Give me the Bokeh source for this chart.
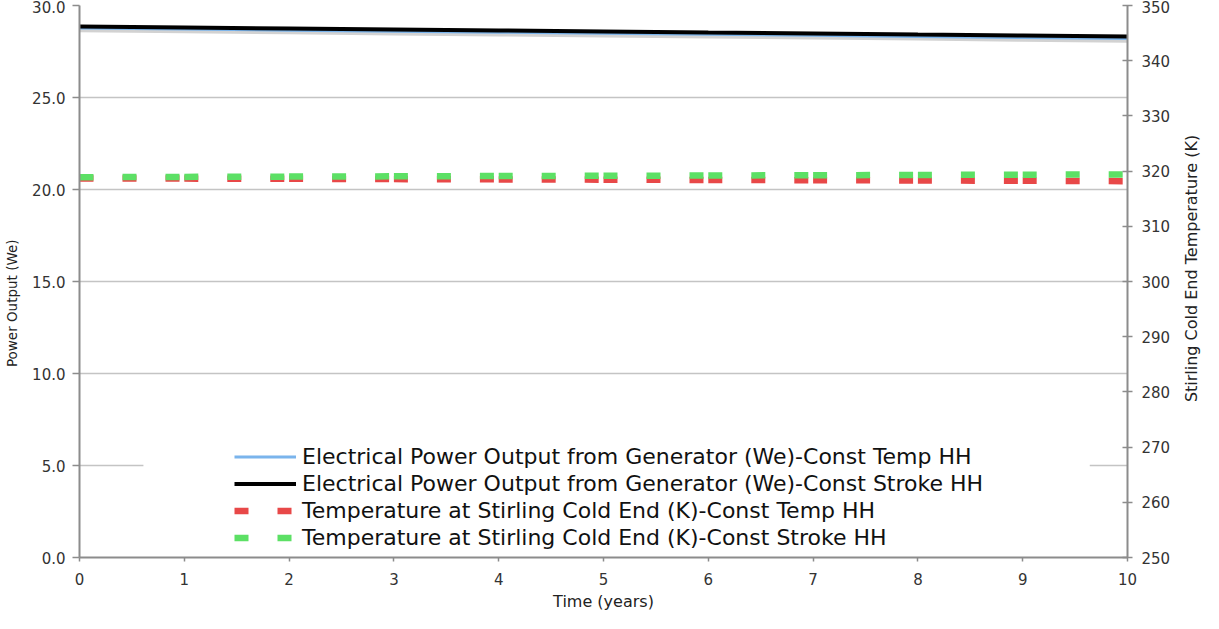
from bokeh.plotting import figure
from bokeh.layouts import row
from bokeh.models import (Range1d, LinearAxis, FixedTicker, PrintfTickFormatter,
                          Legend, LegendItem, BoxAnnotation)
from bokeh.core.properties import value
from bokeh.embed import file_html
from bokeh.resources import INLINE
import math

# ---- data ----
years = [0, 1, 2, 3, 4, 5, 6, 7, 8, 9, 10]
power_const_temp = [28.78, 28.72, 28.66, 28.60, 28.55, 28.49, 28.44, 28.38, 28.32, 28.26, 28.20]
power_const_stroke = [28.86, 28.81, 28.75, 28.70, 28.64, 28.59, 28.53, 28.48, 28.42, 28.37, 28.31]
temp_const_temp = [318.68, 318.64, 318.60, 318.55, 318.50, 318.45, 318.40, 318.35, 318.30, 318.24, 318.18]
temp_const_stroke = [318.90, 318.95, 319.00, 319.05, 319.10, 319.15, 319.20, 319.25, 319.30, 319.35, 319.40]

labels = [
    "Electrical Power Output from Generator (We)-Const Temp HH",
    "Electrical Power Output from Generator (We)-Const Stroke HH",
    "Temperature at Stirling Cold End (K)-Const Temp HH",
    "Temperature at Stirling Cold End (K)-Const Stroke HH",
]
x_ticks = list(range(0, 11))
left_ticks = [0, 5, 10, 15, 20, 25, 30]
right_ticks = list(range(250, 351, 10))
left_title = "Power Output (We)"
right_title = "Stirling Cold End Temperature (K)"
x_title = "Time (years)"

FONT = "DejaVu Sans"
TXT = "#333333"
AX = "#8c8c8c"

H = 613
BT, BB = 5, 56          # top / bottom borders of the main figure
frame_h = H - BT - BB

p = figure(width=1144, height=H, output_backend="svg", toolbar_location=None,
           x_range=Range1d(0, 10), y_range=Range1d(0, 30),
           min_border_left=49, min_border_right=43, min_border_top=BT, min_border_bottom=BB)
p.extra_y_ranges = {"temp": Range1d(250, 350)}
p.outline_line_color = None
p.xgrid.visible = False
p.ygrid.grid_line_color = "#c4c4c4"
p.ygrid.grid_line_width = 1.5
p.ygrid.ticker = FixedTicker(ticks=left_ticks)

# white box behind the legend (hides the gridline there)
p.add_layout(BoxAnnotation(left=0.61, right=9.64, bottom=0.5, top=9.0,
                           fill_color="white", fill_alpha=1.0, line_color=None,
                           level="underlay"))

shadow = [v - 0.12 for v in power_const_temp]
p.line(years, shadow, line_color="#d2d2d2", line_width=4)
r_blue = p.line(years, power_const_temp, line_color="#7ab4ec", line_width=3)
r_black = p.line(years, power_const_stroke, line_color="black", line_width=4)

xs = [[years[i], years[i + 1]] for i in range(len(years) - 1)]
ys_red = [[temp_const_temp[i], temp_const_temp[i + 1]] for i in range(len(years) - 1)]
ys_green = [[temp_const_stroke[i], temp_const_stroke[i + 1]] for i in range(len(years) - 1)]
r_red = p.multi_line(xs, ys_red, line_color="#e84848", line_width=6.5, line_dash="14 29",
                     line_cap="butt", y_range_name="temp")
r_green = p.multi_line(xs, ys_green, line_color="#5ce065", line_width=6.5, line_dash="14 29",
                       line_cap="butt", y_range_name="temp")

for ax in (p.xaxis[0], p.yaxis[0]):
    ax.axis_line_color = AX
    ax.axis_line_width = 2
    ax.major_tick_line_color = AX
    ax.major_tick_line_width = 1.5
    ax.minor_tick_line_color = None
    ax.major_label_text_font = FONT
    ax.major_label_text_color = TXT
    ax.major_label_text_font_size = "15px"
    ax.axis_label_text_font = FONT
    ax.axis_label_text_font_style = "normal"
    ax.axis_label_text_color = "#222222"

p.xaxis.ticker = FixedTicker(ticks=x_ticks)
p.xaxis.major_tick_in = 0
p.xaxis.major_tick_out = 4
p.xaxis.major_label_standoff = 11
p.xaxis.axis_label = x_title
p.xaxis.axis_label_text_font_size = "16px"
p.xaxis.axis_label_standoff = 4

p.yaxis.ticker = FixedTicker(ticks=left_ticks)
p.yaxis.formatter = PrintfTickFormatter(format="%.1f")
p.yaxis.major_tick_in = 0
p.yaxis.major_tick_out = 7
p.yaxis.major_label_standoff = 7

ry = LinearAxis(y_range_name="temp", ticker=FixedTicker(ticks=right_ticks))
ry.axis_line_color = AX
ry.axis_line_width = 2
ry.major_tick_line_color = AX
ry.major_tick_line_width = 1.5
ry.minor_tick_line_color = None
ry.major_tick_in = 5
ry.major_tick_out = 5
ry.major_label_standoff = 9
ry.major_label_text_font = FONT
ry.major_label_text_color = TXT
ry.major_label_text_font_size = "15px"
p.add_layout(ry, "right")

legend = Legend(items=[LegendItem(label=labels[0], renderers=[r_blue]),
                       LegendItem(label=labels[1], renderers=[r_black]),
                       LegendItem(label=labels[2], renderers=[r_red]),
                       LegendItem(label=labels[3], renderers=[r_green])],
                location=(155, 7), background_fill_alpha=0, border_line_alpha=0,
                padding=0, margin=0, spacing=2, glyph_width=62, glyph_height=25,
                label_height=25, label_standoff=6, label_text_font=FONT,
                label_text_font_size="22px", label_text_color="#111111")
p.add_layout(legend)


def side_panel(width, lo, hi, px_per_unit):
    f = figure(width=width, height=H, output_backend="svg", toolbar_location=None,
               x_axis_location=None, y_axis_location=None, x_range=Range1d(0, 1),
               y_range=Range1d(lo - BB / px_per_unit, hi + BT / px_per_unit),
               min_border=0, min_border_left=0, min_border_right=0,
               min_border_top=0, min_border_bottom=0)
    f.outline_line_color = None
    f.xgrid.visible = False
    f.ygrid.visible = False
    return f


# left title panel (same vertical mapping as the left axis), read bottom-to-top
p0 = side_panel(29, 0, 30, frame_h / 30.0)
p0.text(x=[0.38], y=[12.3], text=[left_title], angle=math.pi / 2,
        text_align="center", text_baseline="middle",
        text_font=value(FONT), text_font_size="13.5px", text_color="#222222")

# right title panel (same vertical mapping as the right axis)
p2 = side_panel(30, 250, 350, frame_h / 100.0)
p2.text(x=[0.6], y=[298], text=[right_title], angle=math.pi / 2,
        text_align="center", text_baseline="middle",
        text_font=value(FONT), text_font_size="16px", text_color="#222222")

layout = row(p0, p, p2, spacing=0)
open("out.html", "w").write(file_html(layout, INLINE))
